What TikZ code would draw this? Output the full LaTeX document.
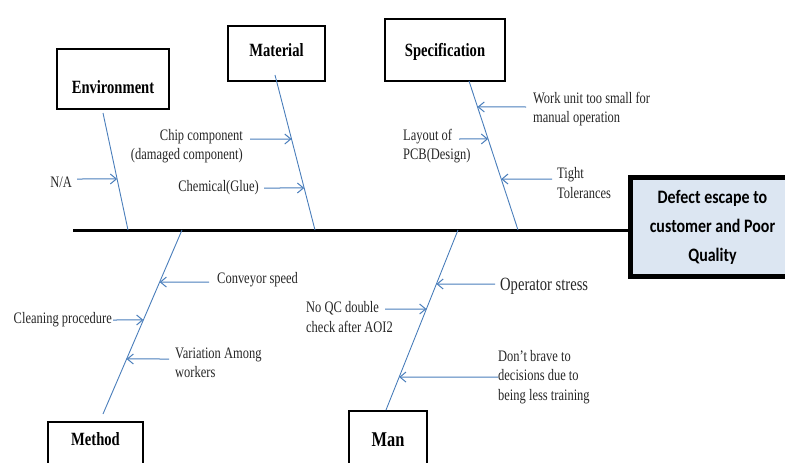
\documentclass[tikz,border=0pt]{standalone}
\usepackage{fontspec}
\setmainfont[FakeStretch=0.78]{Liberation Serif}
\newfontfamily\calib[FakeStretch=0.84]{Carlito}
\usetikzlibrary{arrows.meta}
\definecolor{bonecol}{HTML}{4A7EBB}
\definecolor{resfill}{HTML}{DCE6F2}
\begin{document}
\begin{tikzpicture}[x=1pt,y=-1pt,
  catbox/.style={draw=black, line width=2pt, inner sep=0pt, anchor=north west,
    font=\fontsize{18.7}{20}\selectfont\bfseries},
  spine/.style={draw=black, line width=3pt},
  bone/.style={draw=bonecol, line width=0.9pt},
  cause/.style={draw=bonecol, line width=1pt,
    -{Straight Barb[length=6pt,width=10pt,line width=1pt]}},
  lbl/.style={inner sep=0pt, text=black!85,
    font=\fontsize{16}{19.5}\selectfont},
  lblbig/.style={lbl, font=\fontsize{18.7}{20}\selectfont}]
\useasboundingbox (0,0) rectangle (785,463);

% category boxes
\node[catbox, minimum width=112, text height=44, text depth=16] (env) at (56,48) {Environment};
\node[catbox, minimum width=97, text height=30, text depth=25] (mat) at (227,25) {Material};
\node[catbox, minimum width=120, text height=37, text depth=25] (spec) at (384,18) {Specification};
\node[catbox, minimum width=95, text height=23, text depth=36] (meth) at (47,421) {Method};
\node[catbox, minimum width=78, text height=35, text depth=35,
  font=\fontsize{21}{22}\selectfont\bfseries] (man) at (348,410) {Man};

% effect box
\node[draw=black, line width=5pt, fill=resfill, inner sep=0pt, anchor=north west,
  minimum width=164, minimum height=99, align=center,
  font=\calib\fontsize{19}{29}\selectfont\bfseries] (res) at (628,175)
  {Defect escape to\\customer and Poor\\Quality};

% spine
\coordinate (tail) at (73,230);
\draw[spine] (tail) -- (tail -| res.west);

% bones with the points where the causes meet them
\coordinate (envA) at (103,113);  \coordinate (envB) at (128,230);
\coordinate (matA) at (275,75);   \coordinate (matB) at (315,230);
\coordinate (specA) at (469,81);  \coordinate (specB) at (518,230);
\coordinate (methA) at (182,230); \coordinate (methB) at (103,414);
\coordinate (manA) at (458,230);  \coordinate (manB) at (386,410);

\draw[bone] (envA) -- (envB) coordinate[pos=0.564] (env1);
\draw[bone] (matA) -- (matB) coordinate[pos=0.413] (mat1) coordinate[pos=0.729] (mat2);
\draw[bone] (specA) -- (specB) coordinate[pos=0.174] (spec1) coordinate[pos=0.389] (spec2)
  coordinate[pos=0.658] (spec3);
\draw[bone] (methA) -- (methB) coordinate[pos=0.283] (meth1) coordinate[pos=0.489] (meth2)
  coordinate[pos=0.701] (meth3);
\draw[bone] (manA) -- (manB) coordinate[pos=0.300] (man1) coordinate[pos=0.439] (man2)
  coordinate[pos=0.817] (man3);

% Environment
\node[lbl, anchor=east] (na) at (72,182) {N/A};
\coordinate (naS) at (77,179);
\draw[cause] (naS) -- (env1);

% Material
\node[lbl, anchor=east, align=right] (chip) at (243,146) {Chip component\\(damaged component)};
\coordinate (chipS) at (250,139);
\draw[cause] (chipS) -- (mat1);
\node[lbl, anchor=east] (glue) at (259,188) {Chemical(Glue)};
\coordinate (glueS) at (264,188);
\draw[cause] (glueS) -- (mat2);

% Specification
\node[lbl, anchor=west, align=left] (work) at (533,109) {Work unit too small for\\manual operation};
\coordinate (workS) at (526,107);
\draw[cause] (workS) -- (spec1);
\node[lbl, anchor=west, align=left] (pcb) at (403,146) {Layout of\\PCB(Design)};
\coordinate (pcbS) at (459,139);
\draw[cause] (pcbS) -- (spec2);
\node[lbl, anchor=west, align=left] (tight) at (557,183) {Tight\\Tolerances};
\coordinate (tightS) at (552,179);
\draw[cause] (tightS) -- (spec3);

% Method
\node[lbl, anchor=west] (conv) at (217,280) {Conveyor speed};
\coordinate (convS) at (209,282);
\draw[cause] (convS) -- (meth1);
\node[lbl, anchor=east] (clean) at (112,320) {Cleaning procedure};
\coordinate (cleanS) at (113,320);
\draw[cause] (cleanS) -- (meth2);
\node[lbl, anchor=west, align=left] (vari) at (175,363) {Variation Among\\workers};
\coordinate (variS) at (169,359);
\draw[cause] (variS) -- (meth3);

% Man
\node[lblbig, anchor=west] (stress) at (500,286) {Operator stress};
\coordinate (stressS) at (495,284);
\draw[cause] (stressS) -- (man1);
\node[lbl, anchor=west, align=left] (noqc) at (306,317) {No QC double\\check after AOI2};
\coordinate (noqcS) at (385,309);
\draw[cause] (noqcS) -- (man2);
\node[lbl, anchor=west, align=left] (brave) at (498,377)
  {Don’t brave to\\decisions due to\\being less training};
\coordinate (braveS) at (498,377);
\draw[cause] (braveS) -- (man3);
\end{tikzpicture}
\end{document}
